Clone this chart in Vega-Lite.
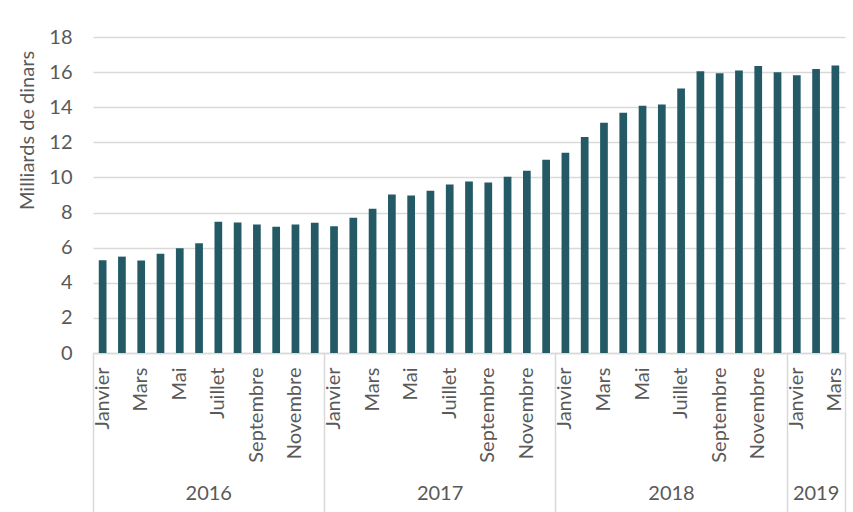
{
  "$schema": "https://vega.github.io/schema/vega-lite/v6.json",
  "width": 752,
  "height": 316,
  "autosize": {"type": "none", "contains": "content"},
  "padding": {"left": 93, "top": 37, "right": 8, "bottom": 159},
  "background": "white",
  "config": {
    "view": {"stroke": null},
    "font": "Lato",
    "axis": {"labelFont": "Lato", "titleFont": "Lato", "labelColor": "#595959", "titleColor": "#595959", "labelFontSize": 20, "titleFontSize": 20, "titleFontWeight": "normal"}
  },
  "data": {
    "values": [
      {"date": "2016-01", "value": 5.28}, {"date": "2016-02", "value": 5.49}, {"date": "2016-03", "value": 5.27},
      {"date": "2016-04", "value": 5.65}, {"date": "2016-05", "value": 5.97}, {"date": "2016-06", "value": 6.25},
      {"date": "2016-07", "value": 7.47}, {"date": "2016-08", "value": 7.43}, {"date": "2016-09", "value": 7.32},
      {"date": "2016-10", "value": 7.19}, {"date": "2016-11", "value": 7.32}, {"date": "2016-12", "value": 7.42},
      {"date": "2017-01", "value": 7.22}, {"date": "2017-02", "value": 7.70}, {"date": "2017-03", "value": 8.21},
      {"date": "2017-04", "value": 9.03}, {"date": "2017-05", "value": 8.97}, {"date": "2017-06", "value": 9.24},
      {"date": "2017-07", "value": 9.60}, {"date": "2017-08", "value": 9.77}, {"date": "2017-09", "value": 9.71},
      {"date": "2017-10", "value": 10.04}, {"date": "2017-11", "value": 10.38}, {"date": "2017-12", "value": 11.01},
      {"date": "2018-01", "value": 11.41}, {"date": "2018-02", "value": 12.30}, {"date": "2018-03", "value": 13.12},
      {"date": "2018-04", "value": 13.69}, {"date": "2018-05", "value": 14.09}, {"date": "2018-06", "value": 14.15},
      {"date": "2018-07", "value": 15.06}, {"date": "2018-08", "value": 16.05}, {"date": "2018-09", "value": 15.93},
      {"date": "2018-10", "value": 16.09}, {"date": "2018-11", "value": 16.35}, {"date": "2018-12", "value": 15.99},
      {"date": "2019-01", "value": 15.82}, {"date": "2019-02", "value": 16.18}, {"date": "2019-03", "value": 16.37}
    ]
  },
  "layer": [
    {
      "mark": {"type": "bar", "color": "#235a66"},
      "encoding": {
        "x": {
          "field": "date", "type": "ordinal",
          "scale": {"paddingInner": 0.6, "paddingOuter": 0.3},
          "axis": {
            "orient": "bottom",
            "title": null,
            "ticks": false,
            "domainColor": "#d9d9d9",
            "domainWidth": 1.5,
            "labelAngle": 270,
            "labelAlign": "right",
            "labelBaseline": "middle",
            "labelPadding": 14,
            "labelOverlap": false,
            "labelExpr": "['Janvier','','Mars','','Mai','','Juillet','','Septembre','','Novembre',''][toNumber(slice(datum.value,5))-1]"
          }
        },
        "y": {
          "field": "value", "type": "quantitative",
          "scale": {"domain": [0, 18], "nice": false},
          "axis": {
            "title": "Milliards de dinars",
            "values": [0, 2, 4, 6, 8, 10, 12, 14, 16, 18],
            "domain": false,
            "ticks": false,
            "labelPadding": 21,
            "gridColor": "#d9d9d9",
            "gridWidth": 1.5,
            "titleAngle": 270,
            "titleX": -66,
            "titleY": 93,
            "titleAlign": "center",
            "titleBaseline": "middle"
          }
        }
      }
    },
    {
      "mark": {"type": "tick", "opacity": 0},
      "encoding": {
        "x": {
          "field": "date", "type": "ordinal",
          "axis": {
            "orient": "bottom",
            "title": null,
            "domain": false,
            "values": ["2016-01", "2017-01", "2018-01", "2019-01"],
            "bandPosition": -0.75,
            "ticks": true,
            "tickSize": 160,
            "tickColor": "#d9d9d9",
            "tickWidth": 1.5,
            "labelAngle": 0,
            "labelAlign": "center",
            "labelBaseline": "middle",
            "labelPadding": -20,
            "labelOverlap": false,
            "labelOffset": {"condition": {"test": "datum.value === '2019-01'", "value": 19.3}, "value": 106.1},
            "labelExpr": "slice(datum.value, 0, 4)"
          }
        }
      }
    },
    {
      "mark": {"type": "tick", "opacity": 0},
      "encoding": {
        "x": {
          "field": "date", "type": "ordinal",
          "axis": {
            "orient": "bottom",
            "title": null,
            "domain": false,
            "values": ["2019-03"],
            "bandPosition": 1.75,
            "ticks": true,
            "tickSize": 160,
            "tickColor": "#d9d9d9",
            "tickWidth": 1.5,
            "labels": false
          }
        }
      }
    }
  ],
  "resolve": {"axis": {"x": "independent"}}
}
